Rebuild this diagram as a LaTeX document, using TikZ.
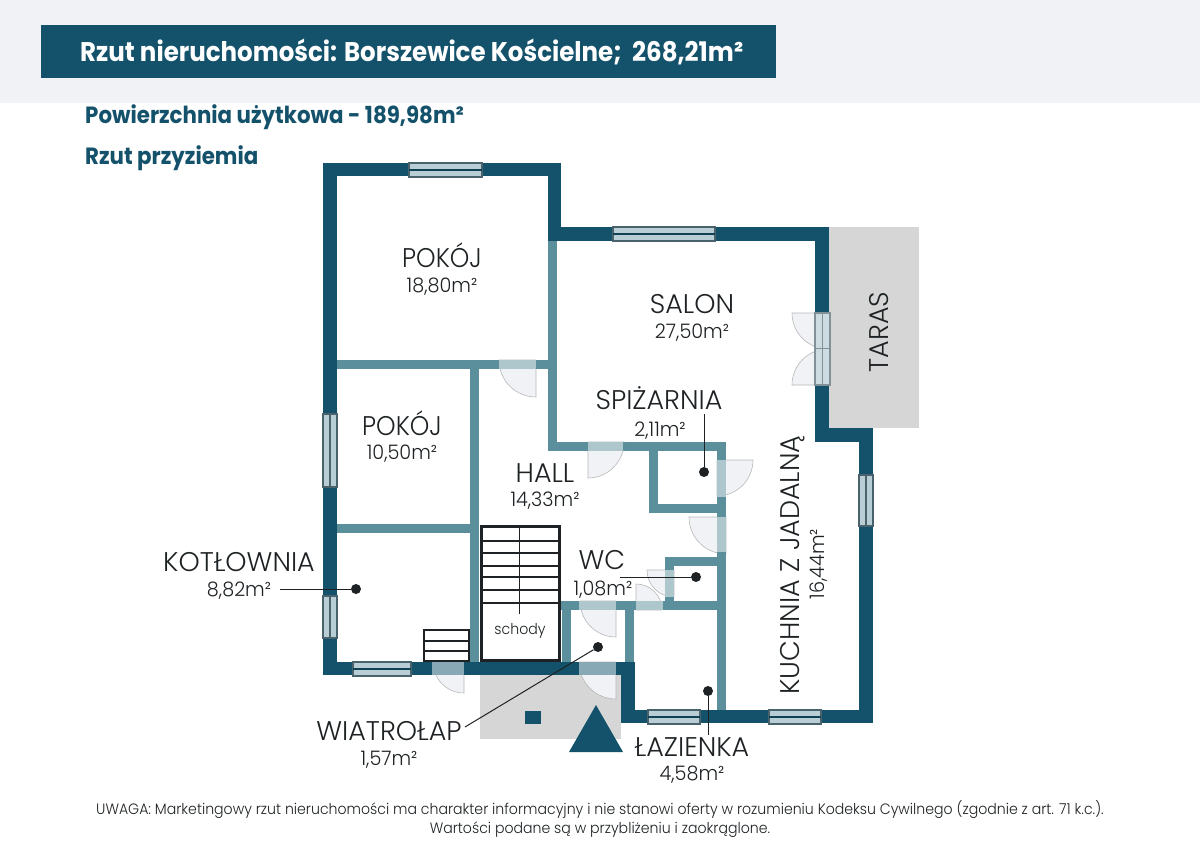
\documentclass[tikz,border=0pt]{standalone}
\usepackage{fontspec}
\setmainfont{Poppins}[FakeStretch=0.908]
\newfontfamily\namefont{Poppins Light}[FakeStretch=1.0]
\newfontfamily\areafont{Poppins Light}[FakeStretch=0.96]
\newfontfamily\notefont{Poppins Light}[FakeStretch=0.941]
\definecolor{darkwall}{HTML}{14526B}
\definecolor{innerwall}{HTML}{5C8F9C}
\definecolor{band}{HTML}{F0F2F6}
\definecolor{pane}{HTML}{B8CDD4}
\definecolor{paneedge}{HTML}{4A626C}
\definecolor{ground}{HTML}{D6D6D6}
\definecolor{inkline}{HTML}{1E2224}
\tikzset {
  % walls
  wall/.style = {draw=darkwall, line width=13.5pt, miter limit=10},
  inner/.style = {draw=innerwall, line width=9pt},
  % doors and windows
  leaf/.style = {draw=black!28, fill=band, line width=0.6pt},
  gap/.style = {fill=white, fill opacity=0.5},
  window/.style = {draw=paneedge, fill=pane, line width=1.1pt},
  % labels
  roomname/.style = {font=\namefont\fontsize{27}{27}\selectfont, text=inkline, inner sep=0pt, anchor=base},
  roomarea/.style = {font=\areafont\fontsize{20}{20}\selectfont, text=inkline, inner sep=0pt, anchor=base},
  heading/.style = {font=\fontsize{23.5}{23.5}\selectfont\bfseries, text=darkwall, anchor=base west, inner sep=0pt},
  pin/.style = {circle, fill=inkline, minimum size=10pt, inner sep=0pt},
  leader/.style = {draw=inkline, line width=1pt},
  stairline/.style = {draw=inkline, line width=1.2pt},
}
\newcommand{\doorswing}[5]{\draw[leaf] (#1,#2) -- +(#3:#5pt) arc[start angle=#3, end angle=#4, radius=#5pt] -- cycle;}
\begin{document}
\begin{tikzpicture}[x=1pt, y=-1pt]
  \useasboundingbox (0,0) rectangle (1200,860);

  % top band
  \fill[band] (0,0) rectangle (1200,103);
  \fill[darkwall] (41,25) rectangle (776,78);
  \node[font=\fontsize{27}{27}\selectfont\bfseries, text=white, anchor=base west, inner sep=0pt] (title) at (80,61) {Rzut nieruchomości: Borszewice Kościelne;\ \ 268,21m²};
  \node[heading] (usable) at (85,123) {Powierzchnia użytkowa - 189,98m²};
  \node[heading] (floor) at (85,164) {Rzut przyziemia};

  % terrace and entrance
  \fill[ground] (829,227) rectangle (919,428);
  \fill[ground] (480,675) rectangle (621,739);
  \fill[darkwall] (525,711) rectangle (541,724);
  \fill[darkwall] (596,705) -- (623,752) -- (569,752) -- cycle;

  % door swings
  \doorswing{536}{360}{180}{270}{37}
  \doorswing{588}{442}{270}{360}{36}
  \doorswing{717}{460}{0}{-90}{36}
  \doorswing{726}{517}{180}{270}{37}
  \doorswing{674}{570}{180}{270}{27}
  \doorswing{636}{610}{90}{0}{26}
  \doorswing{616}{601}{180}{270}{36}
  \doorswing{616}{662}{180}{270}{37}
  \doorswing{464}{662}{180}{270}{31}
  \doorswing{828}{313}{180}{270}{36}
  \doorswing{828}{385}{180}{90}{36}

  % inner walls
  \draw[inner] (337,364.5) -- (552,364.5);
  \draw[inner] (552.5,240) -- (552.5,446.5) -- (721.5,446.5) -- (721.5,710);
  \draw[inner] (474.5,369) -- (474.5,662);
  \draw[inner] (337,528) -- (470,528);
  \draw[inner] (653.5,451) -- (653.5,508.5) -- (717,508.5);
  \draw[inner] (717,561.5) -- (669.5,561.5) -- (669.5,601);
  \draw[inner] (561,605.5) -- (717,605.5);
  \draw[inner] (566,601) -- (566,662);
  \draw[inner] (629.5,610) -- (629.5,662);

  % outer walls
  \draw[wall] (330,169.5) -- (554.5,169.5) -- (554.5,234) -- (822,234) -- (822,435) -- (866,435)
    -- (866,716.5) -- (628,716.5) -- (628,668.5) -- (330,668.5) -- cycle;

  % door openings
  \foreach \xa/\ya/\xb/\yb in {499/360/536/369, 588/442/623/451, 717/460/726/497, 717/517/726/552,
      665/570/674/597, 636/601/663/610, 579/601/616/610, 579/662/616/675, 432/662/464/675}
    \fill[gap] (\xa,\ya) rectangle (\xb,\yb);

  % windows
  \foreach \xa/\ya/\xb/\yb in {409/163/482/177, 613/227/715/241, 353/662/411/676, 648/710/700/724, 769/710/821/724} {
    \draw[window] (\xa,\ya) rectangle (\xb,\yb);
    \draw[draw=darkwall!80!black, line width=1.3pt] (\xa,{(\ya+\yb)/2}) -- (\xb,{(\ya+\yb)/2});
  }
  \foreach \xa/\ya/\xb/\yb in {323/414/337/487, 323/596/337/638, 859/475/873/526} {
    \draw[window] (\xa,\ya) rectangle (\xb,\yb);
    \draw[draw=paneedge, line width=1.1pt] ({(\xa+\xb)/2},\ya) -- ({(\xa+\xb)/2},\yb);
  }
  \draw[window, fill=pane!70!white, draw=paneedge!70!white] (815,313) rectangle (830,385);
  \draw[draw=paneedge!70!white, line width=1pt] (822.5,313) -- (822.5,385);
  \draw[draw=paneedge!70!white, line width=1pt] (815,348.5) -- (830,348.5);

  % stairs
  \draw[draw=inkline, line width=3pt] (481.5,526.5) rectangle (559.5,660);
  \foreach \y in {541,553,566,577,590,603}
    \draw[stairline] (481.5,\y) -- (559.5,\y);
  \draw[stairline] (519.5,526.5) -- (519.5,614);
  \node[font=\notefont\fontsize{15}{15}\selectfont, text=inkline, inner sep=0pt] (schody) at (520,631) {schody};
  \draw[stairline] (424,630) rectangle (469,661);
  \foreach \y in {641,651}
    \draw[stairline] (424,\y) -- (469,\y);

  % room labels
  \node[roomname, xscale=0.92, transform shape] (pokoj1) at (442,267) {POKÓJ};
  \node[roomarea] (pokoj1m) at (442,292) {18,80m²};
  \node[roomname, xscale=0.92, transform shape] (pokoj2) at (402,435) {POKÓJ};
  \node[roomarea] (pokoj2m) at (402,459) {10,50m²};
  \node[roomname] (salon) at (692,313) {SALON};
  \node[roomarea] (salonm) at (692,338) {27,50m²};
  \node[roomname] (spiz) at (659,409) {SPIŻARNIA};
  \node[roomarea] (spizm) at (660,436) {2,11m²};
  \node[roomname] (hall) at (545,482) {HALL};
  \node[roomarea] (hallm) at (545,506) {14,33m²};
  \node[roomname] (kotl) at (239,571) {KOTŁOWNIA};
  \node[roomarea] (kotlm) at (239,596) {8,82m²};
  \node[roomname] (wc) at (602,569) {WC};
  \node[roomarea] (wcm) at (603,595) {1,08m²};
  \node[roomname] (wiatr) at (389,740) {WIATROŁAP};
  \node[roomarea] (wiatrm) at (389,765) {1,57m²};
  \node[roomname] (laz) at (692,756) {ŁAZIENKA};
  \node[roomarea] (lazm) at (692,780) {4,58m²};
  \node[roomname, rotate=90] (taras) at (888,332) {TARAS};
  \node[roomname, rotate=90] (kuchnia) at (799,565) {KUCHNIA Z JADALNĄ};
  \node[roomarea, rotate=90] (kuchniam) at (824,564) {16,44m²};

  % pins with their leaders
  \node[pin] (pinkotl) at (356,589) {};
  \node[pin] (pinspiz) at (704,472) {};
  \node[pin] (pinwc) at (696,577) {};
  \node[pin] (pinwiatr) at (598,647) {};
  \node[pin] (pinlaz) at (708,691) {};
  \coordinate (endkotl) at (280,589);
  \coordinate (endspiz) at (704,414);
  \coordinate (endwc) at (620,577);
  \coordinate (endwiatr) at (465,727);
  \coordinate (endlaz) at (708,735);
  \draw[leader] (endkotl) -- (pinkotl);
  \draw[leader] (endspiz) -- (pinspiz);
  \draw[leader] (endwc) -- (pinwc);
  \draw[leader] (endwiatr) -- (pinwiatr);
  \draw[leader] (endlaz) -- (pinlaz);

  % note at the bottom
  \node[font=\notefont\fontsize{15}{19}\selectfont, text=inkline, align=center, inner sep=0pt] (note) at (600,819)
    {UWAGA: Marketingowy rzut nieruchomości ma charakter informacyjny i nie stanowi oferty w rozumieniu Kodeksu Cywilnego (zgodnie z art. 71 k.c.).\\Wartości podane są w przybliżeniu i zaokrąglone.};
\end{tikzpicture}
\end{document}
